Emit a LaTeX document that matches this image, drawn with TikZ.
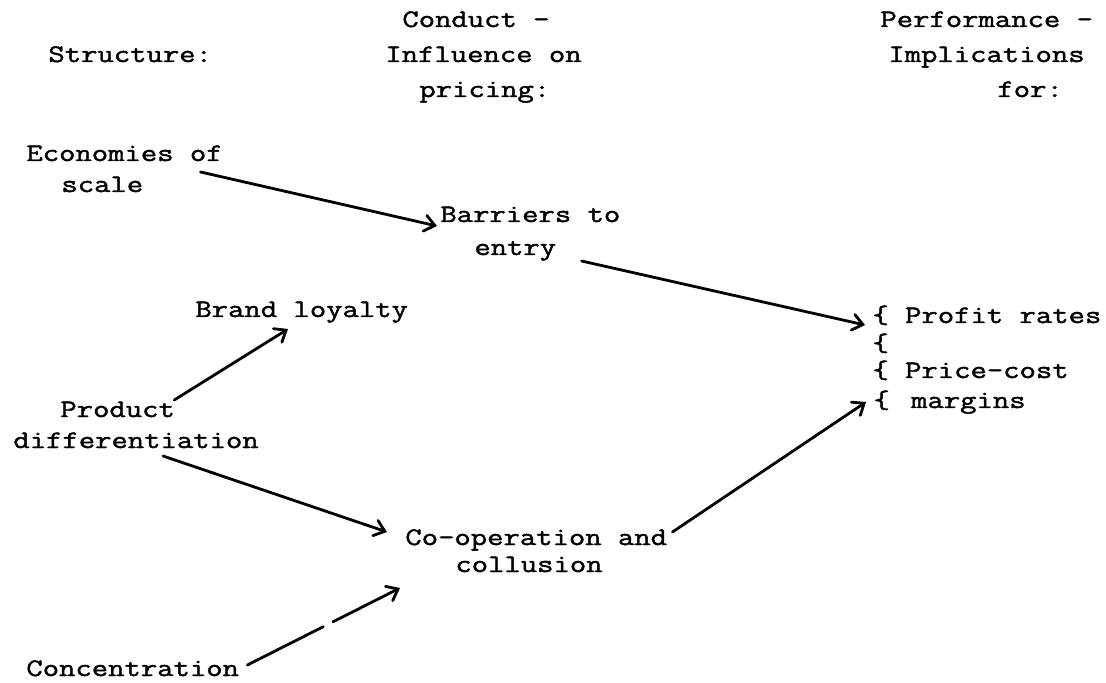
\documentclass[tikz,border=0pt]{standalone}
\usepackage{fontspec}
\usepackage{tikz}
\usetikzlibrary{arrows,arrows.meta}
\newfontfamily\typew[FakeBold=1.6,FakeStretch=1.26]{Latin Modern Mono}

\tikzset{
  txt/.style={anchor=base west, inner sep=0pt, font=\typew\fontsize{12.6}{15}\selectfont},
  conn/.style={-{Straight Barb[length=5pt,width=8pt,line cap=round]}, line width=1.4pt, line cap=round}
}

\begin{document}
\begin{tikzpicture}[x=0.5pt,y=-0.5pt]
        \useasboundingbox (0,0) rectangle (1106,683);

        % column headings
        \node[txt] (hstruct) at (48,62) {Structure:};
        \node[txt] (hcond1) at (402,27) {Conduct -};
        \node[txt] (hcond2) at (385,62) {Influence on};
        \node[txt] (hcond3) at (419,97) {pricing:};
        \node[txt] (hperf1) at (880,27) {Performance -};
        \node[txt] (hperf2) at (888,62) {Implications};
        \node[txt] (hperf3) at (997,97) {for:};

        % structure
        \node[txt] (eco) at (26,161) {Economies of};
        \node[txt] (scale) at (61,192) {scale};
        \node[txt] (prod) at (60,417) {Product};
        \node[txt] (diff) at (13,448) {differentiation};
        \node[txt] (conc) at (26,676) {Concentration};

        % conduct
        \node[txt] (barr) at (440,222) {Barriers to};
        \node[txt] (entry) at (474,255) {entry};
        \node[txt] (brand) at (195,317) {Brand loyalty};
        \node[txt] (coop) at (405,545) {Co-operation and};
        \node[txt] (coll) at (455,572) {collusion};

        % performance
        \node[txt] (profit) at (872,323) {\{ Profit rates};
        \node[txt] (brace) at (872,351) {\{};
        \node[txt] (price) at (872,378) {\{ Price-cost};
        \node[txt] (margin) at (873,408) {\{ \hspace{0.2em}margins};

        \draw[conn] ([shift={(57,-20)}]scale.base east) -- ([shift={(-3,4)}]barr.base west);
        \draw[conn] ([shift={(25,6)}]entry.base east) -- ([shift={(-7,2)}]profit.base west);
        \draw[conn] ([shift={(-1,-17)}]prod.base east) -- ([shift={(93,12)}]brand.base west);
        \draw[conn] ([shift={(150,8)}]diff.base west) -- ([shift={(-18,-13)}]coop.base west);
        \draw[conn] ([shift={(5,-13)}]coop.base east) -- ([shift={(-7,-6)}]margin.base west);
        % broken line
        \draw[conn, dash pattern=on 42.5pt off 5.5pt on 200pt] ([shift={(8,-11)}]conc.base east) -- ([shift={(-55,16)}]coll.base west);
    \end{tikzpicture}
\end{document}
